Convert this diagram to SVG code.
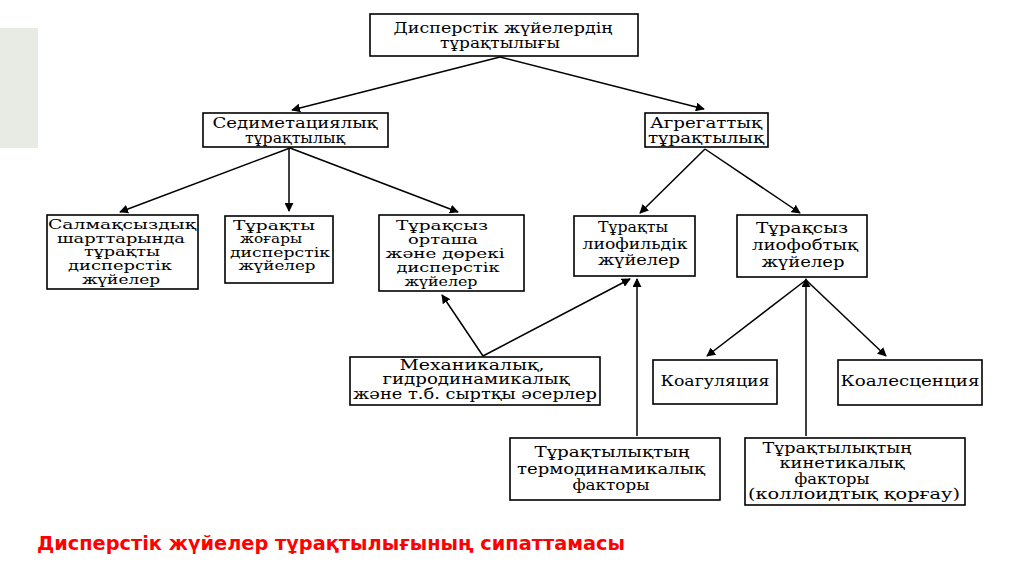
<svg xmlns="http://www.w3.org/2000/svg" width="1024" height="576" viewBox="0 0 1024 576">
<style>
.box{fill:#fff;stroke:#000;stroke-width:1.6}
.t{font-family:"DejaVu Serif","Liberation Serif",serif;font-size:14px;fill:#000;text-anchor:middle}
.s{font-size:12.5px}
.c{stroke:#000;stroke-width:1.5;fill:none;marker-end:url(#ah)}
.title{font-family:"DejaVu Sans","Liberation Sans",sans-serif;font-weight:bold;font-size:19px;fill:#f00}
</style>
<defs>
<marker id="ah" viewBox="0 0 10 10" refX="9" refY="5" markerWidth="9" markerHeight="9" markerUnits="userSpaceOnUse" orient="auto">
<path d="M0,0 L10,5 L0,10 z" fill="#000"/>
</marker>
</defs>
<rect x="0" y="0" width="1024" height="576" fill="#fff"/>
<rect x="0" y="28" width="38" height="120" fill="#e8ebe4"/>
<g id="connectors">
<line class="c" x1="500" y1="57" x2="292" y2="110"/>
<line class="c" x1="500" y1="57" x2="704" y2="109"/>
<line class="c" x1="290" y1="148" x2="120" y2="212"/>
<line class="c" x1="289" y1="148" x2="289" y2="211"/>
<line class="c" x1="290" y1="148" x2="458" y2="212"/>
<line class="c" x1="705" y1="149" x2="640" y2="213"/>
<line class="c" x1="705" y1="149" x2="800" y2="213"/>
<line class="c" x1="483" y1="356" x2="442" y2="295"/>
<line class="c" x1="483" y1="356" x2="630" y2="279"/>
<line class="c" x1="637" y1="436" x2="637" y2="279"/>
<line class="c" x1="806" y1="280" x2="707" y2="356"/>
<line class="c" x1="806" y1="280" x2="886" y2="356"/>
<line class="c" x1="806" y1="436" x2="806" y2="279"/>
</g>
<g id="n-top">
<rect class="box" x="370" y="14" width="268" height="42"/>
<text class="t" x="503" y="33" textLength="219" lengthAdjust="spacingAndGlyphs">Дисперстік жүйелердің</text>
<text class="t" x="500" y="48" textLength="120" lengthAdjust="spacingAndGlyphs">тұрақтылығы</text>
</g>
<g id="n-sedim">
<rect class="box" x="203" y="113" width="185" height="34"/>
<text class="t" x="295" y="128" textLength="165" lengthAdjust="spacingAndGlyphs">Седиметациялық</text>
<text class="t" x="295" y="143" textLength="100" lengthAdjust="spacingAndGlyphs">тұрақтылық</text>
</g>
<g id="n-agg">
<rect class="box" x="645" y="113" width="123" height="34"/>
<text class="t" x="706" y="128" textLength="112" lengthAdjust="spacingAndGlyphs">Агрегаттық</text>
<text class="t" x="706" y="143" textLength="116" lengthAdjust="spacingAndGlyphs">тұрақтылық</text>
</g>
<g id="n-salmaq">
<rect class="box" x="47" y="215" width="151" height="74"/>
<text class="t s" x="122" y="229" textLength="148" lengthAdjust="spacingAndGlyphs">Салмақсыздық</text>
<text class="t s" x="121" y="243" textLength="128" lengthAdjust="spacingAndGlyphs">шарттарында</text>
<text class="t s" x="122" y="256" textLength="76" lengthAdjust="spacingAndGlyphs">тұрақты</text>
<text class="t s" x="120" y="270" textLength="104" lengthAdjust="spacingAndGlyphs">дисперстік</text>
<text class="t s" x="121" y="284" textLength="78" lengthAdjust="spacingAndGlyphs">жүйелер</text>
</g>
<g id="n-zhogary">
<rect class="box" x="225" y="216" width="108" height="67"/>
<text class="t s" x="274" y="230" textLength="82" lengthAdjust="spacingAndGlyphs">Тұрақты</text>
<text class="t s" x="271" y="243" textLength="62" lengthAdjust="spacingAndGlyphs">жоғары</text>
<text class="t s" x="280" y="257" textLength="100" lengthAdjust="spacingAndGlyphs">дисперстік</text>
<text class="t s" x="277" y="270" textLength="77" lengthAdjust="spacingAndGlyphs">жүйелер</text>
</g>
<g id="n-ortasha">
<rect class="box" x="379" y="215" width="145" height="76"/>
<text class="t s" x="442" y="230" textLength="92" lengthAdjust="spacingAndGlyphs">Тұрақсыз</text>
<text class="t s" x="443" y="244" textLength="70" lengthAdjust="spacingAndGlyphs">орташа</text>
<text class="t s" x="445" y="258" textLength="119" lengthAdjust="spacingAndGlyphs">және дөрекі</text>
<text class="t s" x="448" y="272" textLength="103" lengthAdjust="spacingAndGlyphs">дисперстік</text>
<text class="t s" x="441" y="286" textLength="73" lengthAdjust="spacingAndGlyphs">жүйелер</text>
</g>
<g id="n-lyophil">
<rect class="box" x="574" y="216" width="121" height="60"/>
<text class="t" x="633" y="232" textLength="70" lengthAdjust="spacingAndGlyphs">Тұрақты</text>
<text class="t" x="635" y="249" textLength="105" lengthAdjust="spacingAndGlyphs">лиофильдік</text>
<text class="t" x="639" y="265" textLength="82" lengthAdjust="spacingAndGlyphs">жүйелер</text>
</g>
<g id="n-lyophob">
<rect class="box" x="737" y="215" width="130" height="62"/>
<text class="t" x="802" y="233" textLength="92" lengthAdjust="spacingAndGlyphs">Тұрақсыз</text>
<text class="t" x="805" y="250" textLength="106" lengthAdjust="spacingAndGlyphs">лиофобтық</text>
<text class="t" x="803" y="267" textLength="83" lengthAdjust="spacingAndGlyphs">жүйелер</text>
</g>
<g id="n-mech">
<rect class="box" x="350" y="357" width="250" height="48"/>
<text class="t" x="472" y="370" textLength="145" lengthAdjust="spacingAndGlyphs">Механикалық,</text>
<text class="t" x="476" y="384" textLength="187" lengthAdjust="spacingAndGlyphs">гидродинамикалық</text>
<text class="t" x="475" y="399" textLength="244" lengthAdjust="spacingAndGlyphs">және т.б. сыртқы әсерлер</text>
</g>
<g id="n-koag">
<rect class="box" x="653" y="360" width="124" height="44"/>
<text class="t" x="715" y="386" textLength="109" lengthAdjust="spacingAndGlyphs">Коагуляция</text>
</g>
<g id="n-koal">
<rect class="box" x="838" y="360" width="144" height="45"/>
<text class="t" x="910" y="386" textLength="139" lengthAdjust="spacingAndGlyphs">Коалесценция</text>
</g>
<g id="n-thermo">
<rect class="box" x="510" y="438" width="210" height="62"/>
<text class="t" x="612" y="457" textLength="155" lengthAdjust="spacingAndGlyphs">Тұрақтылықтың</text>
<text class="t" x="611" y="474" textLength="188" lengthAdjust="spacingAndGlyphs">термодинамикалық</text>
<text class="t" x="611" y="490" textLength="77" lengthAdjust="spacingAndGlyphs">факторы</text>
</g>
<g id="n-kinet">
<rect class="box" x="745" y="438" width="220" height="67"/>
<text class="t" x="837" y="453" textLength="149" lengthAdjust="spacingAndGlyphs">Тұрақтылықтың</text>
<text class="t" x="842" y="468" textLength="125" lengthAdjust="spacingAndGlyphs">кинетикалық</text>
<text class="t" x="832" y="484" textLength="75" lengthAdjust="spacingAndGlyphs">факторы</text>
<text class="t" x="854" y="499" textLength="212" lengthAdjust="spacingAndGlyphs">(коллоидтық қорғау)</text>
</g>
<text class="title" x="37" y="550" textLength="588" lengthAdjust="spacingAndGlyphs">Дисперстік жүйелер тұрақтылығының сипаттамасы</text>
</svg>
